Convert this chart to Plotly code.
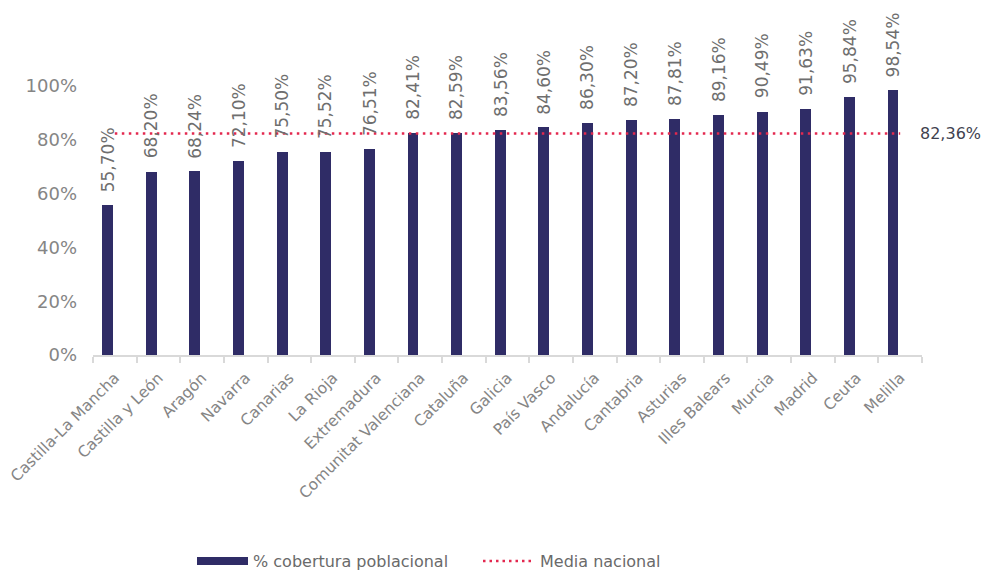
import plotly.graph_objects as go

# Regional population coverage (share) and national average
regions = [
    "Castilla-La Mancha", "Castilla y León", "Aragón", "Navarra", "Canarias",
    "La Rioja", "Extremadura", "Comunitat Valenciana", "Cataluña", "Galicia",
    "País Vasco", "Andalucía", "Cantabria", "Asturias", "Illes Balears",
    "Murcia", "Madrid", "Ceuta", "Melilla",
]
coverage = [
    0.5570, 0.6820, 0.6824, 0.7210, 0.7550, 0.7552, 0.7651, 0.8241, 0.8259,
    0.8356, 0.8460, 0.8630, 0.8720, 0.8781, 0.8916, 0.9049, 0.9163, 0.9584,
    0.9854,
]
national_mean = 0.8236
y_ticks = [0, 0.2, 0.4, 0.6, 0.8, 1.0]
y_tick_text = ["0%", "20%", "40%", "60%", "80%", "100%"]

BAR_COLOR = "#2f2c66"
LINE_COLOR = "#e3284f"
TICK_GRAY = "#858585"
LABEL_GRAY = "#6e6e6e"
FONT = "DejaVu Sans"

W, H = 981, 572
M_L, M_R, M_T, M_B = 93, 59, 86, 217
plot_w = W - M_L - M_R
plot_h = H - M_T - M_B


def fmt_pct(v):
    return f"{v * 100:.2f}%".replace(".", ",")


def px_x(px):
    return (px - M_L) / plot_w


def px_y(py):
    return (H - M_B - py) / plot_h


BAR_WIDTH = 0.25
BAR_OFFSET = -0.29
bar_center_shift = (BAR_OFFSET + BAR_WIDTH / 2) * plot_w / len(regions)

fig = go.Figure()

fig.add_trace(go.Bar(
    x=regions,
    y=coverage,
    width=BAR_WIDTH,
    offset=BAR_OFFSET,
    marker=dict(color=BAR_COLOR, line=dict(width=0)),
    name="% cobertura poblacional",
    showlegend=False,
    hoverinfo="x+y",
))

fig.add_trace(go.Scatter(
    x=regions,
    y=[national_mean] * len(regions),
    mode="lines",
    line=dict(color=LINE_COLOR, width=2.5, dash="2.5px,4.5px"),
    name="Media nacional",
    showlegend=False,
    hoverinfo="y",
))

annotations = []
for r, v in zip(regions, coverage):
    annotations.append(dict(
        x=r, y=v, xref="x", yref="y",
        text=fmt_pct(v), textangle=-90,
        showarrow=False, xanchor="center", yanchor="bottom",
        xshift=bar_center_shift, yshift=11,
        font=dict(family=FONT, size=17, color=LABEL_GRAY),
    ))

# value of the national average, to the right of the plot
annotations.append(dict(
    x=1.0, y=national_mean, xref="paper", yref="y",
    text=fmt_pct(national_mean), showarrow=False,
    xanchor="left", yanchor="middle", xshift=-4,
    font=dict(family=FONT, size=16, color="#3f4250"),
))

# legend drawn below the axis labels
legend_y = 561
shapes = [
    dict(type="rect", xref="paper", yref="paper",
         x0=px_x(197), x1=px_x(248), y0=px_y(565), y1=px_y(557),
         fillcolor=BAR_COLOR, line=dict(width=0)),
    dict(type="line", xref="paper", yref="paper",
         x0=px_x(483), x1=px_x(531), y0=px_y(legend_y), y1=px_y(legend_y),
         line=dict(color=LINE_COLOR, width=2.5, dash="2.5px,4px")),
]
annotations += [
    dict(x=px_x(251), y=px_y(legend_y), xref="paper", yref="paper",
         text="% cobertura poblacional", showarrow=False,
         xanchor="left", yanchor="middle",
         font=dict(family=FONT, size=16, color="#6a6a6a")),
    dict(x=px_x(538), y=px_y(legend_y), xref="paper", yref="paper",
         text="Media nacional", showarrow=False,
         xanchor="left", yanchor="middle",
         font=dict(family=FONT, size=16, color="#6a6a6a")),
]

fig.update_layout(
    width=W, height=H,
    margin=dict(l=M_L, r=M_R, t=M_T, b=M_B, pad=0, autoexpand=False),
    paper_bgcolor="white", plot_bgcolor="white",
    bargap=0,
    showlegend=False,
    annotations=annotations,
    shapes=shapes,
    font=dict(family=FONT, color=TICK_GRAY),
    xaxis=dict(
        type="category", range=[-0.5, len(regions) - 0.5],
        automargin=False,
        showline=True, linecolor="#d9d9d9", linewidth=1.5,
        ticks="outside", tickson="boundaries", ticklen=6,
        tickcolor="#d9d9d9", tickwidth=1.5,
        tickangle=-45, showgrid=False, zeroline=False,
        ticklabelstandoff=6,
        tickfont=dict(family=FONT, size=15.5, color=TICK_GRAY),
    ),
    yaxis=dict(
        range=[0, 1.0], tickvals=y_ticks, ticktext=y_tick_text,
        automargin=False,
        showline=False, showgrid=False, zeroline=False, ticks="",
        ticklabelstandoff=15,
        tickfont=dict(family=FONT, size=18, color=TICK_GRAY),
    ),
)

fig.write_html("out.html")
